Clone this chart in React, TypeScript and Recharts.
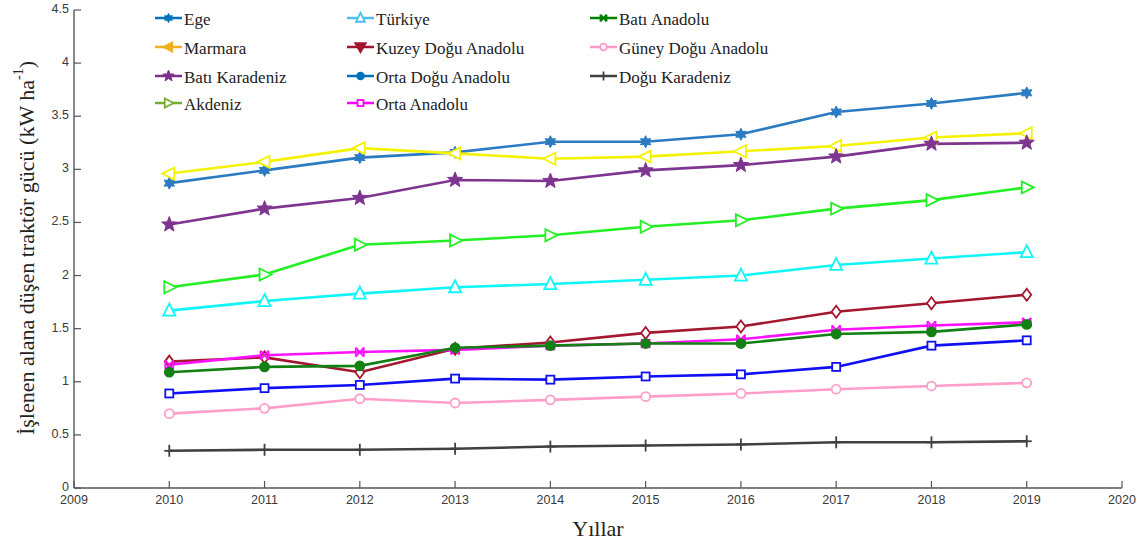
import React from 'react';
import { LineChart, Line, XAxis, YAxis, Legend, Label } from 'recharts';

// Yıllara göre bölgesel traktör gücü (kW/ha)
const YEARS = [2010, 2011, 2012, 2013, 2014, 2015, 2016, 2017, 2018, 2019];
const X_TICKS = [2009, 2010, 2011, 2012, 2013, 2014, 2015, 2016, 2017, 2018, 2019, 2020];
const Y_TICKS = [0, 0.5, 1, 1.5, 2, 2.5, 3, 3.5, 4, 4.5];

const EGE = [2.87, 2.99, 3.11, 3.16, 3.26, 3.26, 3.33, 3.54, 3.62, 3.72];
const MARMARA = [2.96, 3.07, 3.2, 3.15, 3.1, 3.12, 3.17, 3.22, 3.3, 3.34];
const BATI_KARADENIZ = [2.48, 2.63, 2.73, 2.9, 2.89, 2.99, 3.04, 3.12, 3.24, 3.25];
const AKDENIZ = [1.89, 2.01, 2.29, 2.33, 2.38, 2.46, 2.52, 2.63, 2.71, 2.83];
const TURKIYE = [1.67, 1.76, 1.83, 1.89, 1.92, 1.96, 2.0, 2.1, 2.16, 2.22];
const KUZEY_DOGU = [1.19, 1.23, 1.09, 1.31, 1.37, 1.46, 1.52, 1.66, 1.74, 1.82];
const ORTA_ANADOLU = [1.16, 1.25, 1.28, 1.3, 1.34, 1.36, 1.4, 1.49, 1.53, 1.56];
const BATI_ANADOLU = [1.09, 1.14, 1.15, 1.32, 1.34, 1.36, 1.36, 1.45, 1.47, 1.54];
const ORTA_DOGU = [0.89, 0.94, 0.97, 1.03, 1.02, 1.05, 1.07, 1.14, 1.34, 1.39];
const GUNEY_DOGU = [0.7, 0.75, 0.84, 0.8, 0.83, 0.86, 0.89, 0.93, 0.96, 0.99];
const DOGU_KARADENIZ = [0.35, 0.36, 0.36, 0.37, 0.39, 0.4, 0.41, 0.43, 0.43, 0.44];

type Marker = 'hex' | 'left' | 'right' | 'up' | 'down' | 'star' | 'diamond' | 'square' | 'circle' | 'bowtie' | 'plus';

interface SeriesDef {
  key: string;
  values: number[];
  color: string;
  marker: Marker;
  filled: boolean;
}

const SERIES: SeriesDef[] = [
  { key: 'Ege', values: EGE, color: '#2a7bc1', marker: 'hex', filled: true },
  { key: 'Marmara', values: MARMARA, color: '#f5f200', marker: 'left', filled: false },
  { key: 'Batı Karadeniz', values: BATI_KARADENIZ, color: '#7e3590', marker: 'star', filled: true },
  { key: 'Akdeniz', values: AKDENIZ, color: '#22f022', marker: 'right', filled: false },
  { key: 'Türkiye', values: TURKIYE, color: '#10f5f5', marker: 'up', filled: false },
  { key: 'Kuzey Doğu Anadolu', values: KUZEY_DOGU, color: '#a3182f', marker: 'diamond', filled: false },
  { key: 'Orta Anadolu', values: ORTA_ANADOLU, color: '#ff10ff', marker: 'bowtie', filled: false },
  { key: 'Batı Anadolu', values: BATI_ANADOLU, color: '#138013', marker: 'circle', filled: true },
  { key: 'Orta Doğu Anadolu', values: ORTA_DOGU, color: '#1010f5', marker: 'square', filled: false },
  { key: 'Güney Doğu Anadolu', values: GUNEY_DOGU, color: '#ff9ec8', marker: 'circle', filled: false },
  { key: 'Doğu Karadeniz', values: DOGU_KARADENIZ, color: '#404040', marker: 'plus', filled: false },
];

// legend entries are drawn in three columns with their own colours and markers
const LEGEND_ITEMS: { label: string; color: string; marker: Marker; filled: boolean; col: number; row: number }[] = [
  { label: 'Ege', color: '#0072bd', marker: 'hex', filled: true, col: 0, row: 0 },
  { label: 'Marmara', color: '#edb120', marker: 'left', filled: true, col: 0, row: 1 },
  { label: 'Batı Karadeniz', color: '#7e2f8e', marker: 'star', filled: true, col: 0, row: 2 },
  { label: 'Akdeniz', color: '#77ac30', marker: 'right', filled: false, col: 0, row: 3 },
  { label: 'Türkiye', color: '#4dbeee', marker: 'up', filled: false, col: 1, row: 0 },
  { label: 'Kuzey Doğu Anadolu', color: '#a2142f', marker: 'down', filled: true, col: 1, row: 1 },
  { label: 'Orta Doğu Anadolu', color: '#0072bd', marker: 'circle', filled: true, col: 1, row: 2 },
  { label: 'Orta Anadolu', color: '#ff00ff', marker: 'square', filled: false, col: 1, row: 3 },
  { label: 'Batı Anadolu', color: '#008000', marker: 'bowtie', filled: false, col: 2, row: 0 },
  { label: 'Güney Doğu Anadolu', color: '#ff99cc', marker: 'circle', filled: false, col: 2, row: 1 },
  { label: 'Doğu Karadeniz', color: '#404040', marker: 'plus', filled: false, col: 2, row: 2 },
];

const data = YEARS.map((year, i) => {
  const row: Record<string, number> = { year };
  SERIES.forEach((s) => {
    row[s.key] = s.values[i];
  });
  return row;
});

const SERIF = '"Liberation Serif", "Times New Roman", serif';
const SANS = '"Liberation Sans", Arial, sans-serif';
const AXIS = '#555555';

function starPoints(cx: number, cy: number, n: number, ro: number, ri: number) {
  const pts: string[] = [];
  for (let i = 0; i < n * 2; i++) {
    const r = i % 2 === 0 ? ro : ri;
    const a = -Math.PI / 2 + (i * Math.PI) / n;
    pts.push(`${(cx + r * Math.cos(a)).toFixed(2)},${(cy + r * Math.sin(a)).toFixed(2)}`);
  }
  return pts.join(' ');
}

function MarkerShape({ cx, cy, marker, color, filled, scale = 1 }: { cx: number; cy: number; marker: Marker; color: string; filled: boolean; scale?: number }) {
  const fill = filled ? color : '#ffffff';
  const sw = 1.8;
  const s = scale;
  switch (marker) {
    case 'hex':
      return <polygon points={starPoints(cx, cy, 6, 6 * s, 3.2 * s)} fill={color} stroke={color} strokeWidth={1} />;
    case 'star':
      return <polygon points={starPoints(cx, cy, 5, 8 * s, 3.4 * s)} fill={color} stroke={color} strokeWidth={1} />;
    case 'left':
      return <polygon points={`${cx - 7 * s},${cy} ${cx + 5 * s},${cy - 6 * s} ${cx + 5 * s},${cy + 6 * s}`} fill={fill} stroke={color} strokeWidth={sw} />;
    case 'right':
      return <polygon points={`${cx + 7 * s},${cy} ${cx - 5 * s},${cy - 6 * s} ${cx - 5 * s},${cy + 6 * s}`} fill={fill} stroke={color} strokeWidth={sw} />;
    case 'up':
      return <polygon points={`${cx},${cy - 7 * s} ${cx - 6 * s},${cy + 5 * s} ${cx + 6 * s},${cy + 5 * s}`} fill={fill} stroke={color} strokeWidth={sw} />;
    case 'down':
      return <polygon points={`${cx},${cy + 7 * s} ${cx - 7 * s},${cy - 5 * s} ${cx + 7 * s},${cy - 5 * s}`} fill={fill} stroke={color} strokeWidth={sw} />;
    case 'diamond':
      return <polygon points={`${cx},${cy - 6 * s} ${cx + 4.5 * s},${cy} ${cx},${cy + 6 * s} ${cx - 4.5 * s},${cy}`} fill={fill} stroke={color} strokeWidth={sw} />;
    case 'square':
      return <rect x={cx - 4 * s} y={cy - 4 * s} width={8 * s} height={8 * s} fill={fill} stroke={color} strokeWidth={sw} />;
    case 'circle':
      return <circle cx={cx} cy={cy} r={4.5 * s} fill={fill} stroke={color} strokeWidth={sw} />;
    case 'bowtie':
      return (
        <g stroke={color} strokeWidth={sw} fill="none">
          <path d={`M${cx - 4 * s},${cy - 4.5 * s} L${cx + 4 * s},${cy + 4.5 * s} M${cx - 4 * s},${cy + 4.5 * s} L${cx + 4 * s},${cy - 4.5 * s}`} />
          <path d={`M${cx - 4 * s},${cy - 4.5 * s} L${cx - 4 * s},${cy + 4.5 * s} M${cx + 4 * s},${cy - 4.5 * s} L${cx + 4 * s},${cy + 4.5 * s}`} />
        </g>
      );
    case 'plus':
      return (
        <g stroke={color} strokeWidth={sw}>
          <line x1={cx - 5 * s} y1={cy} x2={cx + 5 * s} y2={cy} />
          <line x1={cx} y1={cy - 6 * s} x2={cx} y2={cy + 6 * s} />
        </g>
      );
    default:
      return null;
  }
}

function makeDot(s: SeriesDef) {
  return (props: any) => {
    const { cx, cy, index } = props;
    if (cx == null || cy == null) return <g key={index} />;
    return (
      <g key={`${s.key}-${index}`}>
        <MarkerShape cx={cx} cy={cy} marker={s.marker} color={s.color} filled={s.filled} />
      </g>
    );
  };
}

function XTick({ x, y, payload }: any) {
  return (
    <g>
      <line x1={x} y1={y} x2={x} y2={y - 7} stroke={AXIS} strokeWidth={1.2} />
      <text x={x} y={y + 16} textAnchor="middle" style={{ fontFamily: SANS }} fontSize={12.5} fill="#3a3a3a">
        {payload.value}
      </text>
    </g>
  );
}

function YTick({ x, y, payload }: any) {
  return (
    <g>
      <line x1={x} y1={y} x2={x + 7} y2={y} stroke={AXIS} strokeWidth={1.2} />
      <text x={x - 5} y={y - 1} textAnchor="end" dominantBaseline="central" style={{ fontFamily: SANS }} fontSize={12.5} fill="#3a3a3a">
        {payload.value}
      </text>
    </g>
  );
}

const COL_X = [155, 347, 590];
const ROW_Y = [18, 47, 76, 103];

function renderLegend() {
  return (
    <svg width={1137} height={120} style={{ display: 'block' }}>
      {LEGEND_ITEMS.map((it) => {
        const x = COL_X[it.col];
        const y = ROW_Y[it.row];
        return (
          <g key={it.label}>
            <line x1={x} y1={y} x2={x + 27} y2={y} stroke={it.color} strokeWidth={2.5} />
            <MarkerShape cx={x + 13.5} cy={y} marker={it.marker} color={it.color} filled={it.filled} scale={0.75} />
            <text x={x + 29} y={y + 1} dominantBaseline="central" style={{ fontFamily: SERIF }} fontSize={17} fill="#222">
              {it.label}
            </text>
          </g>
        );
      })}
    </svg>
  );
}

export default function App() {
  return (
    <div style={{ position: 'absolute', left: 0, top: 0, width: 1137, height: 544, background: '#fff' }}>
      <LineChart width={1137} height={544} data={data} margin={{ top: 10, right: 15, bottom: 0, left: 0 }}>
        <XAxis
          dataKey="year"
          type="number"
          domain={[2009, 2020]}
          ticks={X_TICKS}
          height={56}
          tickSize={0}
          tickMargin={0}
          tickLine={false}
          axisLine={{ stroke: AXIS, strokeWidth: 1.4 }}
          tick={<XTick />}
          interval={0}
        >
          <Label
            content={() => (
              <text x={598} y={536} textAnchor="middle" style={{ fontFamily: SERIF }} fontSize={22} fill="#222">
                Yıllar
              </text>
            )}
          />
        </XAxis>
        <YAxis
          type="number"
          domain={[0, 4.5]}
          ticks={Y_TICKS}
          width={74}
          tickSize={0}
          tickMargin={0}
          tickLine={false}
          axisLine={{ stroke: AXIS, strokeWidth: 1.4 }}
          tick={<YTick />}
          interval={0}
        >
          <Label
            content={() => (
              <text
                x={26}
                y={248}
                transform="rotate(-90 26 248)"
                textAnchor="middle"
                dominantBaseline="central"
                style={{ fontFamily: SERIF }}
                fontSize={22}
                fill="#222"
              >
                İşlenen alana düşen traktör gücü (kW ha
                <tspan dy={-8} fontSize={14}>-1</tspan>
                <tspan dy={8}>)</tspan>
              </text>
            )}
          />
        </YAxis>
        <Legend
          layout="vertical"
          align="center"
          verticalAlign="middle"
          content={renderLegend}
          wrapperStyle={{ position: 'absolute', top: 0, left: 0, width: 1137, height: 120 }}
        />
        {SERIES.map((s) => (
          <Line
            key={s.key}
            type="linear"
            dataKey={s.key}
            stroke={s.color}
            strokeWidth={2.6}
            dot={makeDot(s)}
            activeDot={false}
            isAnimationActive={false}
          />
        ))}
      </LineChart>
    </div>
  );
}
